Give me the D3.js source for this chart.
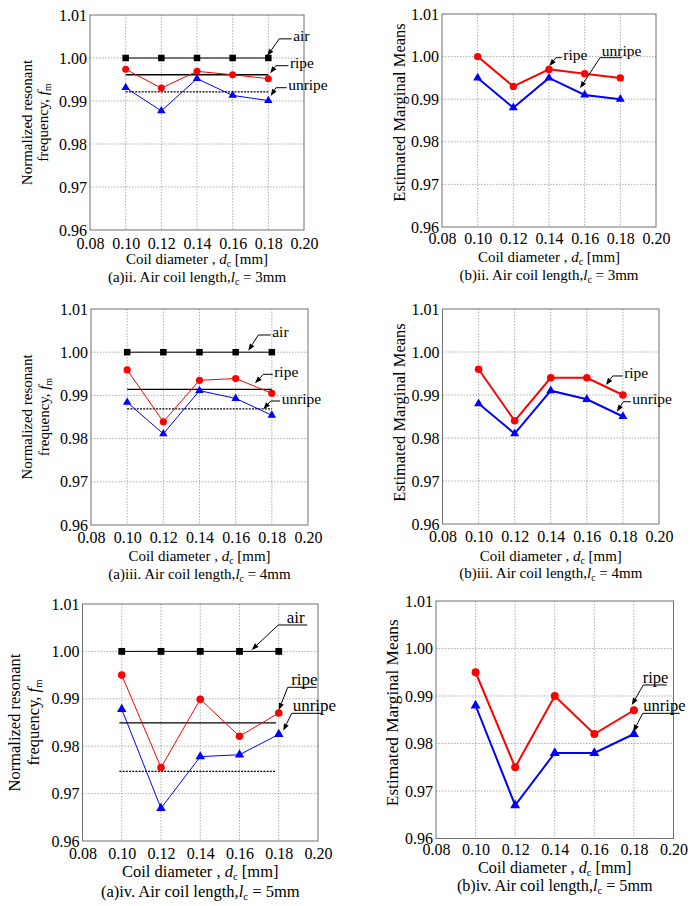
<!DOCTYPE html>
<html><head><meta charset="utf-8">
<script src="https://cdn.jsdelivr.net/npm/d3@7"></script>
<style>
body{margin:0;background:#fff}
svg{display:block}
text{font-family:"Liberation Serif","Times New Roman",serif;fill:#000}
</style>
</head><body>
<svg id="c" width="691" height="906" font-family="Liberation Serif, Times New Roman, serif"></svg>
<script>
// ---------------- data ----------------
const diameters = [0.10, 0.12, 0.14, 0.16, 0.18];
const xTicks = [0.08, 0.10, 0.12, 0.14, 0.16, 0.18, 0.20];
const yTicks = [0.96, 0.97, 0.98, 0.99, 1.00, 1.01];
const seriesNames = ['air', 'ripe', 'unripe'];

// (a) normalized resonant frequency
const airLc3 = [1.000, 1.000, 1.000, 1.000, 1.000];
const ripeLc3 = [0.9974, 0.9930, 0.9969, 0.9961, 0.9952];
const unripeLc3 = [0.9931, 0.9877, 0.9952, 0.9913, 0.9901];
const meansLc3 = [0.9961, 0.9921];          // ripe mean, unripe mean
const airLc4 = [1.000, 1.000, 1.000, 1.000, 1.000];
const ripeLc4 = [0.9959, 0.9839, 0.9935, 0.9939, 0.9905];
const unripeLc4 = [0.9884, 0.9811, 0.9911, 0.9893, 0.9854];
const meansLc4 = [0.9914, 0.9869];
const airLc5 = [1.000, 1.000, 1.000, 1.000, 1.000];
const ripeLc5 = [0.9950, 0.9755, 0.9899, 0.9821, 0.9870];
const unripeLc5 = [0.9878, 0.9669, 0.9778, 0.9782, 0.9825];
const meansLc5 = [0.9849, 0.9747];
const meanSpanLc3 = [0.10, 0.18];
const meanSpanLc4 = [0.10, 0.18];
const meanSpanLc5 = [0.0988, 0.1786];

// (b) estimated marginal means
const emmRipeLc3 = [1.000, 0.993, 0.997, 0.996, 0.995];
const emmUnripeLc3 = [0.995, 0.988, 0.995, 0.991, 0.990];
const emmRipeLc4 = [0.996, 0.984, 0.994, 0.994, 0.990];
const emmUnripeLc4 = [0.988, 0.981, 0.991, 0.989, 0.985];
const emmRipeLc5 = [0.995, 0.975, 0.990, 0.982, 0.987];
const emmUnripeLc5 = [0.988, 0.967, 0.978, 0.978, 0.982];

// ---------------- layout ----------------
const FONT = 'Liberation Serif, Times New Roman, serif';
const RED = '#ff0000', BLUE = '#0000ff';
const svg = d3.select('#c');
svg.append('rect').attr('width', 691).attr('height', 906).attr('fill', '#fff');

const panels = [
  { kind: 'a', x0: 90, x1: 304, y0: 15, y1: 230, air: airLc3, ripe: ripeLc3, unripe: unripeLc3,
    means: meansLc3, span: meanSpanLc3, fs: 15, xPad: 7.4, titleDy: 34, capDy: 52, ytx: [58, 42],
    cap: ['(a)ii. Air coil length,', '3mm'], lw: 1, sq: 6.5, r: 3.5, tri: 8.5, afs: 15.5,
    ann: [
      { i: 0, x: 0.1794, y: 1.0005, ex: 12, ey: -17, seg: 12.4, mode: 'left' },
      { i: 1, x: 0.1810, y: 0.99644, ex: 5.7, ey: -7.6, seg: 12.6, mode: 'left' },
      { i: 2, x: 0.1813, y: 0.99116, ex: 5.3, ey: -8.3, seg: 10.7, mode: 'left' } ] },
  { kind: 'b', x0: 442, x1: 656, y0: 14, y1: 227, ripe: emmRipeLc3, unripe: emmUnripeLc3,
    fs: 15, xPad: 5.4, titleDy: 34.5, capDy: 53, ytx: 37, ytfs: 16.5, ytdy: -8,
    cap: ['(b)ii. Air coil length,', '3mm'], lw: 2, r: 3.7, tri: 9, afs: 15.5,
    ann: [
      { i: 1, x: 0.1402, y: 0.99779, ex: 6.7, ey: -8.3, seg: 5.7, mode: 'left' },
      { i: 2, x: 0.1574, y: 0.99256, ex: 20, ey: -30.6, seg: 22, mode: 'under', tdx: 1.7 } ] },
  { kind: 'a', x0: 91, x1: 308, y0: 309, y1: 525, air: airLc4, ripe: ripeLc4, unripe: unripeLc4,
    means: meansLc4, span: meanSpanLc4, fs: 15, xPad: 6.6, titleDy: 35.5, capDy: 54, ytx: [59, 42],
    cap: ['(a)iii. Air coil length,', '4mm'], lw: 1, sq: 6.5, r: 3.6, tri: 8.5, afs: 15.5,
    ann: [
      { i: 0, x: 0.1670, y: 1.00035, ex: 10, ey: -15.7, seg: 12.4, mode: 'left' },
      { i: 1, x: 0.1707, y: 0.99280, ex: 8.3, ey: -9, seg: 9.4, mode: 'left' },
      { i: 2, x: 0.1753, y: 0.98678, ex: 7.4, ey: -8.3, seg: 9.4, mode: 'left' } ] },
  { kind: 'b', x0: 442.5, x1: 659, y0: 309, y1: 524, ripe: emmRipeLc4, unripe: emmUnripeLc4,
    fs: 15, xPad: 6.4, titleDy: 36.5, capDy: 54, ytx: 37.5, ytfs: 16.5, ytdy: -4,
    cap: ['(b)iii. Air coil length,', '4mm'], lw: 2, r: 3.8, tri: 9, afs: 15.5,
    ann: [
      { i: 1, x: 0.1706, y: 0.99233, ex: 6.7, ey: -9, seg: 10, mode: 'left' },
      { i: 2, x: 0.1766, y: 0.98612, ex: 6.6, ey: -10, seg: 7.4, mode: 'left' } ] },
  { kind: 'a', x0: 82.5, x1: 318, y0: 604, y1: 841, air: airLc5, ripe: ripeLc5, unripe: unripeLc5,
    means: meansLc5, span: meanSpanLc5, fs: 16.5, xPad: 6.3, titleDy: 36, capDy: 55.5, ytx: [62.5, 44],
    cap: ['(a)iv. Air coil length,', '5mm'], lw: 1, sq: 6.8, r: 3.8, tri: 9.5, afs: 17,
    ann: [
      { i: 0, x: 0.1662, y: 1.0003, ex: 26.6, ey: -25, seg: 29, mode: 'under', tdx: 8.4 },
      { i: 1, x: 0.1800, y: 0.98764, ex: 9, ey: -22.7, seg: 29, mode: 'under', tdx: 3.4 },
      { i: 2, x: 0.1823, y: 0.98327, ex: 8.4, ey: -17.4, seg: 30, mode: 'under', tdx: 1 } ] },
  { kind: 'b', x0: 436, x1: 673.5, y0: 601, y1: 838.5, ripe: emmRipeLc5, unripe: emmUnripeLc5,
    fs: 16.2, xPad: 5.5, titleDy: 34, capDy: 52.5, ytx: 38.5, ytfs: 17.3, ytdy: -7,
    cap: ['(b)iv. Air coil length,', '5mm'], lw: 2, r: 4, tri: 10, afs: 16.5,
    ann: [
      { i: 1, x: 0.1789, y: 0.98811, ex: 11.6, ey: -20, seg: 23.4, mode: 'under', tdx: -0.6 },
      { i: 2, x: 0.1797, y: 0.98248, ex: 9.4, ey: -18.4, seg: 37, mode: 'under', tdx: 0.6 } ] }
];

function rich(t, parts, fs) {
  let shift = 0;
  parts.forEach(p => {
    const ts = t.append('tspan').text(p.t);
    if (p.it) ts.attr('font-style', 'italic');
    if (p.sub) {
      ts.attr('font-size', fs * 0.65).attr('dy', fs * 0.2 - shift);
      shift = fs * 0.2;
    } else if (shift) {
      ts.attr('dy', -shift); shift = 0;
    }
  });
}

function triPath(side) {
  const area = side * side * Math.sqrt(3) / 4;
  return d3.symbol(d3.symbolTriangle, area)();
}

function drawPanel(p) {
  const g = svg.append('g').attr('font-family', FONT);
  const x = d3.scaleLinear().domain([0.08, 0.20]).range([p.x0, p.x1]);
  const y = d3.scaleLinear().domain([0.96, 1.01]).range([p.y1, p.y0]);

  // grid
  g.selectAll(null).data(xTicks.slice(1, -1)).join('line')
    .attr('x1', d => x(d)).attr('x2', d => x(d)).attr('y1', p.y0).attr('y2', p.y1)
    .attr('stroke', '#9a9a9a').attr('stroke-width', 0.8).attr('stroke-dasharray', '1.5,1.5');
  g.selectAll(null).data(yTicks.slice(1, -1)).join('line')
    .attr('y1', d => y(d)).attr('y2', d => y(d)).attr('x1', p.x0).attr('x2', p.x1)
    .attr('stroke', '#9a9a9a').attr('stroke-width', 0.8).attr('stroke-dasharray', '1.5,1.5');
  g.append('rect').attr('x', p.x0).attr('y', p.y0).attr('width', p.x1 - p.x0).attr('height', p.y1 - p.y0)
    .attr('fill', 'none').attr('stroke', '#707070').attr('stroke-width', 1);

  // axes
  const fmt = d3.format('.2f');
  const ax = g.append('g').attr('transform', `translate(0,${p.y1})`)
    .call(d3.axisBottom(x).tickValues(xTicks).tickFormat(fmt).tickSize(0).tickPadding(p.xPad));
  const ay = g.append('g').attr('transform', `translate(${p.x0},0)`)
    .call(d3.axisLeft(y).tickValues(yTicks).tickFormat(fmt).tickSize(0).tickPadding(3));
  [ax, ay].forEach(a => {
    a.attr('font-family', FONT).attr('font-size', null);
    a.select('.domain').remove();
    a.selectAll('text').attr('font-size', 16).attr('fill', '#000').attr('font-family', FONT);
  });

  const cx = (p.x0 + p.x1) / 2, cy = (p.y0 + p.y1) / 2;
  // x title
  const xt = g.append('text').attr('x', cx).attr('y', p.y1 + p.titleDy).attr('text-anchor', 'middle').attr('font-size', p.fs);
  rich(xt, [{ t: 'Coil diameter , ' }, { t: 'd', it: true }, { t: 'c', sub: true }, { t: ' [mm]' }], p.fs);
  const ct = g.append('text').attr('x', cx).attr('y', p.y1 + p.capDy).attr('text-anchor', 'middle').attr('font-size', p.fs);
  rich(ct, [{ t: p.cap[0] }, { t: 'l', it: true }, { t: 'c', sub: true }, { t: ' = ' + p.cap[1] }], p.fs);

  // y title
  if (p.kind === 'a') {
    g.append('text').attr('transform', `translate(${p.x0 - p.ytx[0]},${cy}) rotate(-90)`)
      .attr('text-anchor', 'middle').attr('font-size', p.fs).text('Normalized resonant');
    const t2 = g.append('text').attr('transform', `translate(${p.x0 - p.ytx[1]},${cy}) rotate(-90)`)
      .attr('text-anchor', 'middle').attr('font-size', p.fs);
    rich(t2, [{ t: 'frequency, ' }, { t: 'f', it: true }, { t: 'm', sub: true }], p.fs);
  } else {
    g.append('text').attr('transform', `translate(${p.x0 - p.ytx},${cy + p.ytdy}) rotate(-90)`)
      .attr('text-anchor', 'middle').attr('font-size', p.ytfs).text('Estimated Marginal Means');
  }

  const line = d3.line().x((d, i) => x(diameters[i])).y(d => y(d));

  if (p.kind === 'a') {
    // mean lines
    g.append('line').attr('x1', x(p.span[0])).attr('x2', x(p.span[1]))
      .attr('y1', y(p.means[0])).attr('y2', y(p.means[0]))
      .attr('stroke', '#000').attr('stroke-width', 1.3);
    g.append('line').attr('x1', x(p.span[0])).attr('x2', x(p.span[1]))
      .attr('y1', y(p.means[1])).attr('y2', y(p.means[1]))
      .attr('stroke', '#000').attr('stroke-width', 1.3).attr('stroke-dasharray', '2,1.2');
    g.append('path').attr('d', line(p.air)).attr('fill', 'none').attr('stroke', '#000').attr('stroke-width', 1);
  }
  g.append('path').attr('d', line(p.ripe)).attr('fill', 'none').attr('stroke', RED).attr('stroke-width', p.lw);
  g.append('path').attr('d', line(p.unripe)).attr('fill', 'none').attr('stroke', BLUE).attr('stroke-width', p.lw);

  if (p.kind === 'a') {
    g.selectAll(null).data(p.air).join('rect')
      .attr('x', (d, i) => x(diameters[i]) - p.sq / 2).attr('y', d => y(d) - p.sq / 2)
      .attr('width', p.sq).attr('height', p.sq).attr('fill', '#000');
  }
  g.selectAll(null).data(p.ripe).join('circle')
    .attr('cx', (d, i) => x(diameters[i])).attr('cy', d => y(d)).attr('r', p.r).attr('fill', RED);
  g.selectAll(null).data(p.unripe).join('path')
    .attr('transform', (d, i) => `translate(${x(diameters[i])},${y(d)})`)
    .attr('d', triPath(p.tri)).attr('fill', BLUE);

  // annotations
  p.ann.forEach(a => {
    const tx = x(a.x), ty = y(a.y);
    const ex = tx + a.ex, ey = ty + a.ey;
    const dx = tx - ex, dy = ty - ey, L = Math.hypot(dx, dy);
    const ux = dx / L, uy = dy / L;
    const hl = 7, hw = 2.6;
    const bx = tx - ux * hl, by = ty - uy * hl;
    g.append('path').attr('d', d3.line()([[ex + a.seg, ey], [ex, ey], [bx, by]]))
      .attr('fill', 'none').attr('stroke', '#000').attr('stroke-width', 1);
    g.append('path').attr('d', d3.line()([[tx, ty], [bx - uy * hw, by + ux * hw], [bx + uy * hw, by - ux * hw]]) + 'Z')
      .attr('fill', '#000');
    let lx, ly;
    if (a.mode === 'left') { lx = ex + a.seg + 1.5; ly = ey + 2.5; }
    else { lx = ex + a.tdx; ly = ey - 2; }
    g.append('text').attr('x', lx).attr('y', ly).attr('font-size', p.afs).text(seriesNames[a.i]);
  });
}

panels.forEach(drawPanel);
</script>
</body></html>
